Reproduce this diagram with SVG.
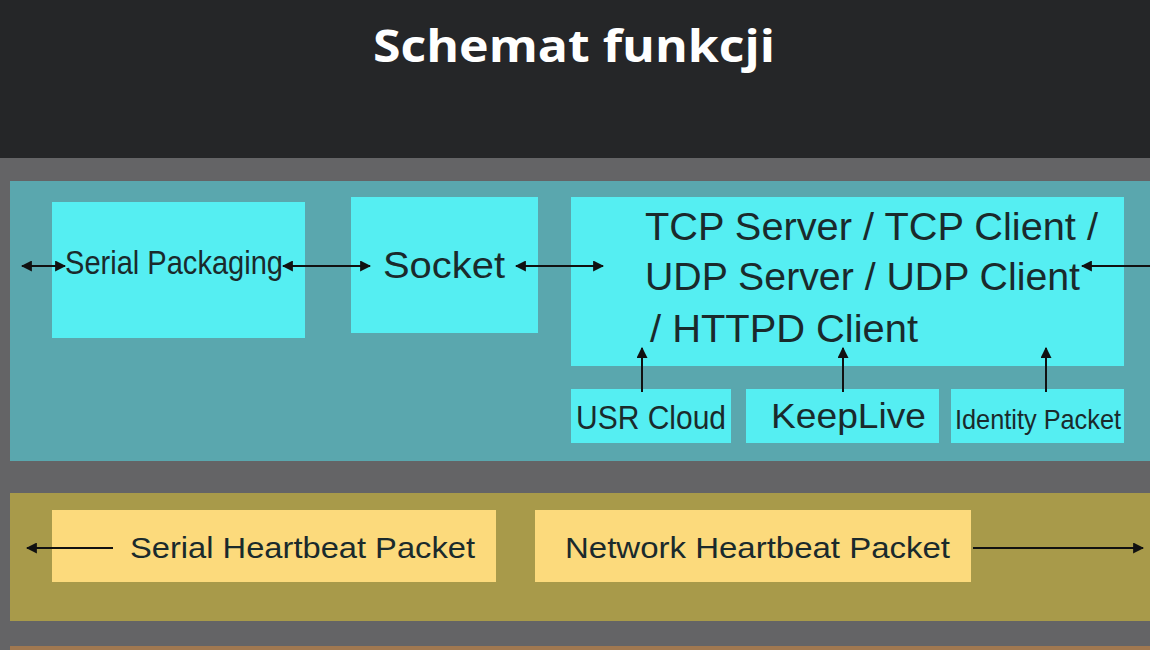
<svg xmlns="http://www.w3.org/2000/svg" width="1150" height="650" viewBox="0 0 1150 650">
<defs>
<marker id="ah" viewBox="0 0 10 10" refX="9" refY="5" markerWidth="11" markerHeight="11" markerUnits="userSpaceOnUse" orient="auto-start-reverse">
<path d="M0,0 L10,5 L0,10 z" fill="#111"/>
</marker>
<style>
.box{fill:#55eef2}
.ybox{fill:#fcda7c}
.t{font-family:"Liberation Sans",Arial,sans-serif;fill:#1a2a2c}
.c{stroke:#111;stroke-width:2;fill:none}
</style>
</defs>
<rect x="0" y="0" width="1150" height="158" fill="#252628"/>
<rect x="0" y="158" width="1150" height="492" fill="#646466"/>
<rect x="10" y="181" width="1140" height="280" fill="#5aa7ae"/>
<rect x="10" y="493" width="1140" height="128" fill="#a89a4a"/>
<rect x="10" y="646" width="1140" height="4" fill="#a07850"/>
<text x="574" y="62" text-anchor="middle" font-family="'Open Sans','Noto Sans',sans-serif" font-weight="bold" font-size="44" fill="#ffffff" textLength="402" lengthAdjust="spacingAndGlyphs">Schemat funkcji</text>
<g id="serial-packaging"><rect class="box" x="52" y="202" width="253" height="136"/><text class="t" x="65" y="274" font-size="34" textLength="218" lengthAdjust="spacingAndGlyphs">Serial Packaging</text></g>
<g id="socket"><rect class="box" x="351" y="197" width="187" height="136"/><text class="t" x="383" y="278" font-size="36" textLength="122" lengthAdjust="spacingAndGlyphs">Socket</text></g>
<g id="protocols"><rect class="box" x="571" y="197" width="553" height="169"/>
<text class="t" x="645" y="240" font-size="39" textLength="453" lengthAdjust="spacingAndGlyphs">TCP Server / TCP Client /</text>
<text class="t" x="645" y="290" font-size="39" textLength="435" lengthAdjust="spacingAndGlyphs">UDP Server / UDP Client</text>
<text class="t" x="650" y="342" font-size="39" textLength="268" lengthAdjust="spacingAndGlyphs">/ HTTPD Client</text></g>
<g id="usr-cloud"><rect class="box" x="571" y="389" width="160" height="54"/><text class="t" x="576" y="429" font-size="34" textLength="150" lengthAdjust="spacingAndGlyphs">USR Cloud</text></g>
<g id="keeplive"><rect class="box" x="746" y="389" width="193" height="54"/><text class="t" x="771" y="428" font-size="35" textLength="155" lengthAdjust="spacingAndGlyphs">KeepLive</text></g>
<g id="identity-packet"><rect class="box" x="951" y="389" width="173" height="54"/><text class="t" x="955" y="429" font-size="28" textLength="166" lengthAdjust="spacingAndGlyphs">Identity Packet</text></g>
<g id="serial-heartbeat"><rect class="ybox" x="52" y="510" width="444" height="72"/><text class="t" x="130" y="558" font-size="30" textLength="345" lengthAdjust="spacingAndGlyphs">Serial Heartbeat Packet</text></g>
<g id="network-heartbeat"><rect class="ybox" x="535" y="510" width="436" height="72"/><text class="t" x="565" y="558" font-size="30" textLength="385" lengthAdjust="spacingAndGlyphs">Network Heartbeat Packet</text></g>
<g id="connectors">
<line class="c" x1="22" y1="266" x2="65" y2="266" marker-start="url(#ah)" marker-end="url(#ah)"/>
<line class="c" x1="283" y1="266" x2="370" y2="266" marker-start="url(#ah)" marker-end="url(#ah)"/>
<line class="c" x1="516" y1="266" x2="603" y2="266" marker-start="url(#ah)" marker-end="url(#ah)"/>
<line class="c" x1="1150" y1="266" x2="1082" y2="266" marker-end="url(#ah)"/>
<line class="c" x1="642" y1="392" x2="642" y2="348" marker-end="url(#ah)"/>
<line class="c" x1="843" y1="392" x2="843" y2="348" marker-end="url(#ah)"/>
<line class="c" x1="1046" y1="392" x2="1046" y2="348" marker-end="url(#ah)"/>
<line class="c" x1="113" y1="548" x2="27" y2="548" marker-end="url(#ah)"/>
<line class="c" x1="973" y1="548" x2="1143" y2="548" marker-end="url(#ah)"/>
</g>
</svg>
